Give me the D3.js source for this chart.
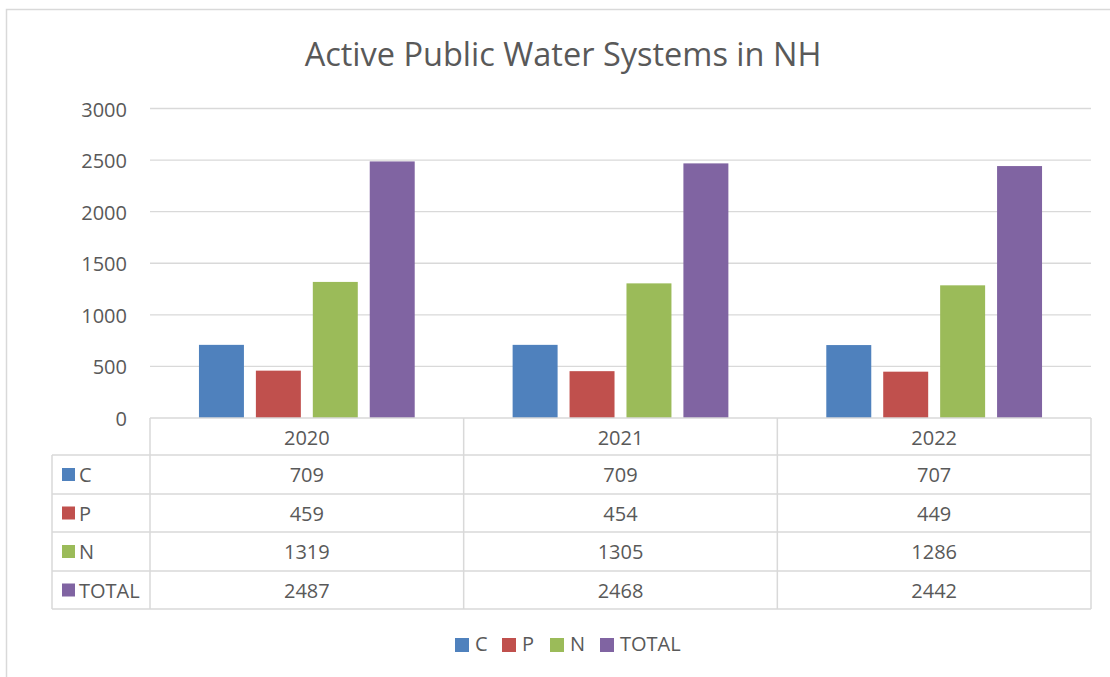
<!DOCTYPE html>
<html>
<head>
<meta charset="utf-8">
<script src="https://cdn.jsdelivr.net/npm/d3@7"></script>
<style>
  body { margin: 0; background: #fff; }
  svg text { font-family: "Open Sans", sans-serif; fill: #595959; }
</style>
</head>
<body>
<svg id="chart" width="1110" height="677"></svg>
<script>
var years = ["2020", "2021", "2022"];
var seriesNames = ["C", "P", "N", "TOTAL"];
var seriesColors = ["#4f81bd", "#c0504d", "#9bbb59", "#8064a2"];
var valuesC = [709, 709, 707];
var valuesP = [459, 454, 449];
var valuesN = [1319, 1305, 1286];
var valuesTotal = [2487, 2468, 2442];
var yTicks = [0, 500, 1000, 1500, 2000, 2500, 3000];

var allValues = [valuesC, valuesP, valuesN, valuesTotal];

var svg = d3.select("#chart");

// chart frame
svg.append("rect")
  .attr("x", 6.5).attr("y", 9.5)
  .attr("width", 1120).attr("height", 700)
  .attr("fill", "none").attr("stroke", "#d9d9d9").attr("stroke-width", 1.5);

svg.append("text")
  .attr("x", 563).attr("y", 66)
  .attr("text-anchor", "middle")
  .style("font-size", "32.5px")
  .text("Active Public Water Systems in NH");

var plotLeft = 150, plotRight = 1091, plotTop = 108.5, plotBottom = 418;

var x = d3.scaleBand().domain(years).range([plotLeft, plotRight]).paddingInner(0).paddingOuter(0);
var xInner = d3.scaleBand().domain(seriesNames).range([0, x.bandwidth()]).paddingInner(0.21).paddingOuter(0.86);
var y = d3.scaleLinear().domain([0, 3000]).range([plotBottom, plotTop]);

// gridlines
svg.append("g").selectAll("line").data(yTicks.filter(function(d) { return d > 0; }))
  .enter().append("line")
  .attr("x1", plotLeft).attr("x2", plotRight)
  .attr("y1", function(d) { return y(d); }).attr("y2", function(d) { return y(d); })
  .attr("stroke", "#d9d9d9").attr("stroke-width", 1.3);

// y tick labels
svg.append("g").selectAll("text").data(yTicks)
  .enter().append("text")
  .attr("x", 127).attr("y", function(d) { return y(d) + 8; })
  .attr("text-anchor", "end")
  .style("font-size", "20px")
  .text(function(d) { return d; });

// bars
var groups = svg.append("g").selectAll("g").data(years)
  .enter().append("g")
  .attr("transform", function(d) { return "translate(" + x(d) + ",0)"; });

groups.selectAll("rect")
  .data(function(yr, yi) {
    return seriesNames.map(function(s, si) { return { s: s, si: si, v: allValues[si][yi] }; });
  })
  .enter().append("rect")
  .attr("x", function(d) { return xInner(d.s); })
  .attr("width", xInner.bandwidth())
  .attr("y", function(d) { return y(d.v); })
  .attr("height", function(d) { return plotBottom - y(d.v); })
  .attr("fill", function(d) { return seriesColors[d.si]; });

// data table
var tableLeft = 52;
var rowYs = [418, 455, 494, 532, 571, 609];
var grid = svg.append("g").attr("stroke", "#d9d9d9").attr("stroke-width", 1.5).attr("fill", "none");

grid.append("line").attr("x1", plotLeft).attr("x2", plotRight).attr("y1", plotBottom).attr("y2", plotBottom);
rowYs.slice(1).forEach(function(ry) {
  grid.append("line").attr("x1", tableLeft).attr("x2", plotRight).attr("y1", ry).attr("y2", ry);
});
grid.append("line").attr("x1", tableLeft).attr("x2", tableLeft).attr("y1", rowYs[1]).attr("y2", rowYs[5]);
years.forEach(function(yr) {
  grid.append("line").attr("x1", x(yr)).attr("x2", x(yr)).attr("y1", plotBottom).attr("y2", rowYs[5]);
});
grid.append("line").attr("x1", plotRight).attr("x2", plotRight).attr("y1", plotBottom).attr("y2", rowYs[5]);

// header labels
svg.append("g").selectAll("text").data(years)
  .enter().append("text")
  .attr("x", function(d) { return x(d) + x.bandwidth() / 2; })
  .attr("y", 445)
  .attr("text-anchor", "middle")
  .style("font-size", "20px")
  .text(function(d) { return d; });

seriesNames.forEach(function(s, si) {
  var top = rowYs[si + 1], bottom = rowYs[si + 2];
  var cy = (top + bottom) / 2;
  svg.append("rect")
    .attr("x", 62).attr("y", cy - 6.5).attr("width", 13).attr("height", 13)
    .attr("fill", seriesColors[si]);
  svg.append("text")
    .attr("x", 79).attr("y", cy + 7.5)
    .style("font-size", "20px")
    .text(s);
  years.forEach(function(yr, yi) {
    svg.append("text")
      .attr("x", x(yr) + x.bandwidth() / 2).attr("y", cy + 7.5)
      .attr("text-anchor", "middle")
      .style("font-size", "20px")
      .text(allValues[si][yi]);
  });
});

// legend
var legendX = [455, 502, 550, 600];
var legend = svg.append("g").selectAll("g").data(seriesNames)
  .enter().append("g")
  .attr("transform", function(d, i) { return "translate(" + legendX[i] + ",638)"; });
legend.append("rect").attr("width", 14).attr("height", 14)
  .attr("fill", function(d, i) { return seriesColors[i]; });
legend.append("text").attr("x", 20).attr("y", 13)
  .style("font-size", "20px")
  .text(function(d) { return d; });
</script>
</body>
</html>
